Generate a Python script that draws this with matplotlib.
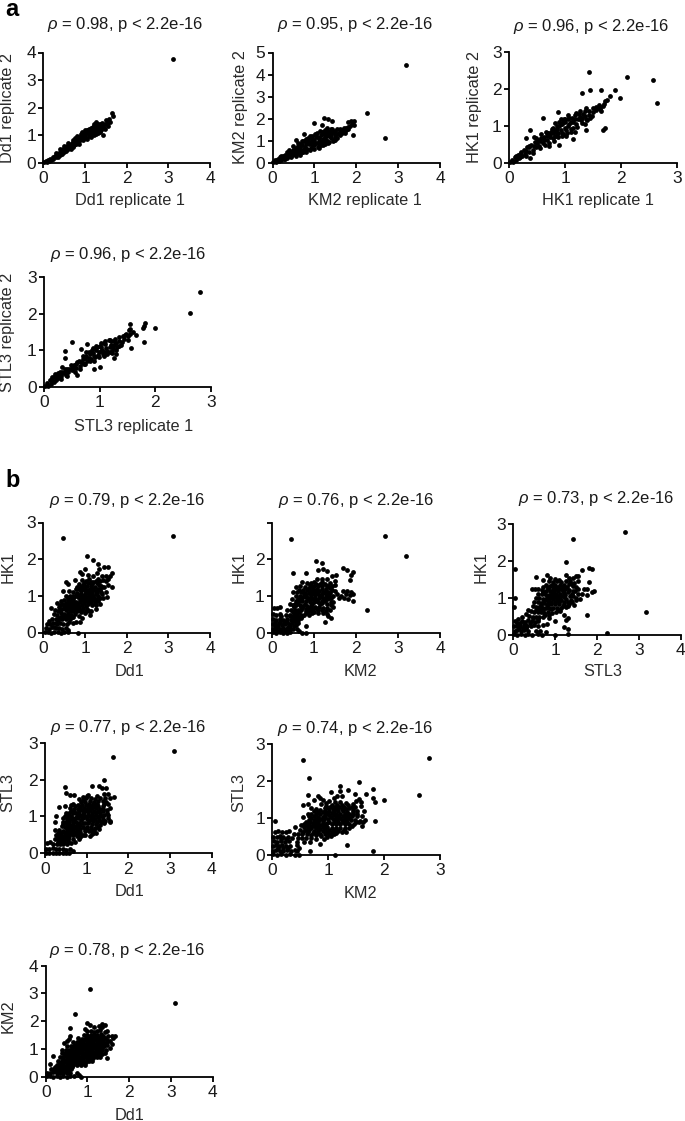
import matplotlib
matplotlib.use("Agg")
import matplotlib.pyplot as plt

W, H = 685, 1121

plt.rcParams["font.family"] = ["Liberation Sans", "DejaVu Sans"]
plt.rcParams["mathtext.fontset"] = "custom"
plt.rcParams["mathtext.it"] = "Liberation Sans:italic"
plt.rcParams["mathtext.rm"] = "Liberation Sans"

# points, one list per panel
dd1_rep = [(.02,.02),(.05,.08),(.08,.03),(.1,.12),(.13,.07),(.16,.16),(.18,.1),(.22,.2),(.24,.14),(.27,.26),
    (.29,.2),(.32,.31),(.34,.25),(.37,.38),(.39,.3),(.42,.42),(.44,.36),(.47,.5),(.49,.4),(.52,.55),
    (.54,.47),(.56,.62),(.58,.5),(.62,.66),(.63,.56),(.66,.68),(.68,.6),(.72,.76),(.74,.66),(.77,.8),
    (.78,.7),(.8,.98),(.82,.88),(.84,.76),(.86,.95),(.88,.82),(.92,.98),(.94,.88),(.98,1.1),(1.0,1.02),
    (1.02,.92),(1.05,1.18),(1.07,1.08),(1.1,.98),(1.12,1.15),(1.15,1.05),(1.18,1.25),(1.2,1.14),(1.22,1.02),(1.25,1.3),
    (1.27,1.2),(1.3,1.1),(1.27,1.48),(1.3,1.42),(1.35,1.3),(1.38,1.2),(1.42,1.38),(1.45,1.28),(1.5,1.55),(1.52,1.42),
    (1.58,1.6),(1.6,1.5),(1.65,1.82),(1.67,1.7),(1.42,1.0),(3.1,3.77),
    (.9,.9),(.96,1.0),(1.03,1.12),(1.08,1.2),(1.13,1.28),(1.17,1.12),(1.23,1.38),(1.24,1.15),(1.33,1.38),(1.33,1.2),
    (1.4,1.28),(1.47,1.4),(1.55,1.5),(1.2,1.3),(1.1,1.08),(.85,.85),(.7,.7),(.6,.6),(.5,.48),(.4,.36),
    (.3,.38),(.35,.2),(.4,.5),(.45,.32),(.5,.62),(.55,.42),(.6,.72),(.65,.52),(.7,.82),(.72,.58),
    (.8,.88),(.85,.68),(.9,1.05),(.95,.82),(1.0,1.18),(1.05,.88),(1.1,1.22),(1.15,.95),(1.2,1.3),(1.25,1.05),
    (1.3,1.32),(1.35,1.12),(1.4,1.45),(1.48,1.22),(1.55,1.35),(1.22,1.4),(1.35,1.42),(.75,.9),(.92,1.12)]

km2_rep = [(.02,.03),(.06,.14),(.09,.04),(.12,.2),(.15,.09),(.18,.26),(.21,.13),(.25,.3),(.28,.18),(.31,.38),
    (.34,.22),(.37,.46),(.4,.3),(.43,.52),(.46,.34),(.49,.6),(.52,.4),(.55,1.03),(.56,.7),(.58,.45),
    (.61,.78),(.64,.52),(.66,.88),(.69,.6),(.72,.98),(.75,1.33),(.74,.5),(.77,.72),(.8,1.08),(.83,.62),
    (.86,.85),(.89,1.2),(.92,.7),(.95,1.0),(.98,.8),(1.0,1.8),(1.02,1.3),(1.05,.9),(1.08,.72),(1.1,1.12),
    (1.14,1.45),(1.18,1.7),(1.16,.95),(1.2,.8),(1.23,2.03),(1.24,1.3),(1.28,1.05),(1.3,1.6),(1.32,2.0),(1.33,.9),
    (1.36,1.4),(1.4,1.15),(1.42,1.88),(1.43,1.55),(1.46,1.05),(1.5,1.3),(1.54,1.15),(1.55,1.55),(1.6,1.42),(1.62,1.25),
    (1.68,1.5),(1.72,1.38),(1.75,1.6),(1.8,1.52),(1.8,1.85),(1.85,1.68),(1.88,1.88),(1.93,1.25),(1.95,1.9),(1.95,1.72),
    (2.25,2.27),(2.68,1.15),(3.18,4.42),
    (.1,.12),(.2,.2),(.3,.28),(.4,.4),(.5,.5),(.55,.55),(.6,.65),(.65,.72),(.7,.8),(.75,.62),
    (.8,.85),(.85,.98),(.9,.9),(.95,.8),(1.0,1.05),(1.0,.9),(1.05,1.18),(1.1,.85),(1.1,1.0),(1.15,1.25),
    (1.2,1.1),(1.2,.95),(1.25,1.18),(1.3,1.3),(1.3,1.0),(1.35,1.2),(1.4,1.28),(1.45,1.42),(1.5,1.18),(1.55,1.3),
    (1.6,1.55),(1.65,1.38),(1.7,1.58),(1.75,1.48),(.78,.98),(.92,1.12),(1.06,1.38),(1.18,1.4),(1.26,1.5),(1.4,1.45),
    (.2,.32),(.3,.18),(.35,.5),(.4,.6),(.45,.25),(.5,.75),(.55,.3),(.6,.9),(.65,.38),(.7,.5),
    (.7,1.0),(.8,.5),(.85,1.15),(.9,.6),(.95,1.2),(1.0,.65),(1.05,1.28),(1.1,.68),(1.15,.8),(1.2,1.4),
    (1.25,.85),(1.3,1.45),(1.35,.95),(1.4,1.55),(1.45,1.0),(1.5,1.05),(1.5,1.45),(1.58,1.35),(1.65,1.5),(1.7,1.45),
    (1.8,1.65),(1.9,1.75),(.95,1.1),(1.12,1.15),(1.28,1.2)]

hk1_rep = [(.02,.02),(.05,.08),(.08,.04),(.1,.15),(.13,.08),(.16,.22),(.18,.13),(.22,.3),(.24,.19),(.27,.35),
    (.29,.25),(.3,.67),(.33,.42),(.35,.3),(.38,.88),(.38,.13),(.4,.5),(.42,.35),(.45,.7),(.47,.58),
    (.49,.42),(.52,.62),(.54,.47),(.57,.78),(.6,1.22),(.6,.55),(.63,.7),(.66,.85),(.68,.62),(.72,.45),
    (.73,.78),(.76,.92),(.78,.68),(.82,1.08),(.84,.85),(.86,.72),(.87,1.38),(.9,.5),(.9,1.0),(.92,1.2),
    (.94,.82),(.97,1.1),(1.0,.95),(1.02,.72),(1.05,1.18),(1.08,1.05),(1.12,1.22),(1.15,.65),(1.15,1.12),(1.18,.85),
    (1.2,1.35),(1.23,1.18),(1.27,1.4),(1.3,1.9),(1.3,1.22),(1.33,1.32),(1.35,1.05),(1.37,.9),(1.38,1.5),(1.38,1.18),
    (1.43,2.47),(1.43,1.3),(1.45,1.98),(1.5,1.5),(1.55,1.42),(1.6,1.58),(1.65,1.98),(1.65,1.4),(1.67,.9),(1.7,1.6),
    (1.72,.95),(1.75,1.7),(1.8,1.82),(1.9,1.98),(1.98,1.77),(2.1,2.33),(2.58,2.23),(2.65,1.63),
    (.2,.24),(.3,.32),(.36,.42),(.44,.46),(.5,.55),(.56,.6),(.62,.62),(.68,.72),(.7,.82),(.74,.7),
    (.78,.8),(.8,.9),(.82,.72),(.86,.92),(.88,.82),(.92,.9),(.94,1.05),(.96,.78),(1.0,1.1),(1.02,.88),
    (1.06,1.0),(1.1,1.12),(1.1,.92),(1.18,1.2),(1.2,1.05),(1.26,1.25),(1.28,1.15),(1.36,1.28),(1.42,1.4),(1.48,1.28),
    (1.58,1.48),(1.62,1.45),(1.68,1.55),(1.72,1.68),(1.05,1.3),(.98,1.2),
    (.12,.2),(.2,.15),(.3,.2),(.35,.45),(.42,.28),(.48,.68),(.55,.4),(.58,.68),(.65,.5),(.68,.8),
    (.72,.55),(.75,.85),(.8,.6),(.85,1.0),(.88,.7),(.92,1.05),(.95,.72),(1.0,1.2),(1.03,.8),(1.08,1.22),
    (1.1,.85),(1.15,.95),(1.18,1.3),(1.22,.98),(1.25,1.33),(1.3,1.08),(1.35,1.4),(1.4,1.15),(1.45,1.22),(1.5,1.38),
    (1.55,1.52),(1.62,1.52),(.78,.95),(.9,1.12)]

stl3_rep = [(.02,.02),(.05,.1),(.08,.04),(.1,.18),(.12,.09),(.15,.27),(.18,.14),(.2,.35),(.22,.2),(.25,.25),
    (.28,.42),(.3,.3),(.33,.55),(.35,.37),(.37,.97),(.37,.8),(.4,.32),(.42,.5),(.44,.42),(.48,.6),
    (.5,1.23),(.5,.45),(.54,.6),(.57,.52),(.6,.33),(.62,.7),(.65,.58),(.67,1.03),(.7,.75),(.72,.62),
    (.76,.85),(.78,1.18),(.78,.7),(.82,.9),(.85,.75),(.88,1.05),(.9,.5),(.9,.85),(.94,1.0),(.97,.88),
    (1.0,.55),(1.0,1.12),(1.03,.98),(1.07,.85),(1.08,1.2),(1.12,1.05),(1.16,1.28),(1.18,.95),(1.2,1.15),(1.24,1.05),
    (1.25,.8),(1.27,1.3),(1.3,.9),(1.3,1.2),(1.35,1.35),(1.38,1.15),(1.43,1.3),(1.45,1.42),(1.5,1.38),(1.52,1.55),
    (1.55,1.72),(1.57,1.05),(1.6,1.5),(1.65,1.42),(1.77,1.6),(1.8,1.65),(1.8,1.23),(1.82,1.75),(2.0,1.6),(2.62,2.03),(2.8,2.58),
    (.15,.18),(.22,.3),(.26,.33),(.32,.4),(.38,.42),(.45,.5),(.52,.52),(.58,.62),(.66,.68),(.74,.78),
    (.8,.8),(.84,.95),(.88,.92),(.92,.82),(.95,1.1),(.98,.96),(1.02,1.1),(1.05,1.02),(1.08,.95),(1.1,1.18),
    (1.14,.98),(1.18,1.1),(1.2,1.25),(1.22,.98),(1.26,1.15),(1.32,1.08),(1.34,1.25),(1.4,1.22),(1.48,1.45),(1.55,1.45),
    (.12,.2),(.18,.28),(.25,.38),(.3,.22),(.38,.5),(.42,.3),(.5,.58),(.55,.42),(.6,.68),(.65,.5),
    (.7,.65),(.74,.62),(.8,.95),(.82,.72),(.86,1.02),(.9,.72),(.94,1.12),(.98,.82),(1.02,1.2),(1.06,.9),
    (1.1,1.25),(1.14,.9),(1.18,1.28),(1.22,.92),(1.26,1.25),(1.3,1.02),(1.35,1.12),(1.42,1.4),(1.5,1.28),(1.55,1.58),
    (.7,.85),(.76,.95)]

dd1_hk1 = [(.03,.01),(.1,.02),(.18,.0),(.26,.02),(.34,.01),(.42,.0),(.5,.02),(.58,.01),(.82,.0),
    (.05,.12),(.13,.1),(.2,.14),(.29,.11),(.37,.13),(.45,.1),(.53,.12),(.6,.08),
    (.09,.24),(.16,.22),(.24,.27),(.32,.22),(.4,.25),(.48,.24),(.56,.22),(.62,.28),(.72,.25),
    (.13,.32),(.21,.38),(.29,.36),(.37,.4),(.45,.36),(.53,.38),(.64,.36),(.78,.3),(.88,.3),
    (.25,.5),(.33,.48),(.41,.52),(.49,.5),(.58,.52),(.67,.48),(.75,.5),(.85,.44),(.92,.4),
    (.18,.68),(.28,.62),(.36,.6),(.45,.64),(.54,.62),(.62,.64),(.7,.6),(.8,.58),(.9,.56),(1.0,.52),(1.12,.47),
    (.33,.8),(.4,.75),(.5,.76),(.58,.76),(.67,.74),(.76,.72),(.85,.7),(.95,.68),(1.05,.65),(1.15,.6),(1.25,.65),
    (.43,.85),(.5,.9),(.6,.88),(.69,.86),(.78,.84),(.88,.82),(.97,.8),(1.07,.78),(1.17,.76),(1.27,.74),(1.36,.78),
    (.48,1.12),(.55,1.0),(.64,1.0),(.73,.98),(.82,.96),(.92,.94),(1.02,.92),(1.12,.9),(1.22,.88),(1.32,.86),(1.43,.95),(1.53,.98),
    (.62,1.12),(.72,1.1),(.8,1.08),(.9,1.06),(1.0,1.04),(1.1,1.03),(1.2,1.0),(1.3,1.0),(1.4,1.05),(1.5,1.1),(1.65,1.25),
    (.55,1.38),(.58,1.32),(.78,1.2),(.86,1.2),(.96,1.18),(1.06,1.16),(1.16,1.14),(1.26,1.12),(1.36,1.16),(1.46,1.25),(1.55,1.3),
    (.75,1.42),(.85,1.32),(.94,1.3),(1.04,1.28),(1.14,1.27),(1.24,1.25),(1.34,1.3),(1.44,1.42),(1.56,1.45),
    (.87,1.65),(.92,1.42),(1.02,1.4),(1.1,1.45),(1.2,1.38),(1.3,1.45),(1.4,1.55),(1.5,1.55),(1.6,1.55),
    (.93,1.6),(1.0,1.72),(1.08,1.58),(1.18,1.55),(1.28,1.62),(1.33,1.72),(1.45,1.8),(1.55,1.78),(1.65,1.63),
    (1.05,2.08),(1.2,1.97),(1.3,1.88),(.48,2.57),(3.1,2.64),
    (.55,.7),(.63,.8),(.72,.9),(.8,.78),(.83,1.02),(.87,.9),(.93,.75),(.95,1.0),(1.0,.87),(1.02,.72),
    (1.05,1.1),(1.1,.96),(1.13,.83),(1.17,1.07),(1.22,.95),(1.23,.8),(1.28,1.07),(1.32,.93),(1.38,1.1),(1.12,1.2),
    (1.2,1.2),(1.3,1.2),(1.0,1.23),(1.08,1.35),(1.17,1.33),(1.28,1.35),(.7,1.0),(.65,.58),(.75,.65),(.85,.62),
    (.45,.45),(.55,.45),(.38,.7),(.45,.78),(.6,.45),(.7,.42),
    (.3,.25),(.25,.15),(.35,.33),(.42,.42),(.5,.42),(.58,.42),(.68,.42),(.4,.62),(.5,.67),(.58,.67),
    (.66,.67),(.74,.66),(.84,.64),(.93,.62),(1.02,.6),(1.1,.6),(.55,.8),(.63,.82),(.73,.78),(.83,.76),
    (.92,.88),(.98,.96),(1.07,.85),(1.17,.95),(1.27,.9),(.6,.95),(.68,.92),(.77,1.02),(.87,1.0),(1.05,.97),
    (1.25,1.05),(1.35,.95),(1.02,1.1),(.9,1.14),(1.12,1.09),(1.4,1.25),(.8,1.25),(.9,1.25),(1.0,1.17),(1.15,1.38),
    (.97,1.36),(1.25,1.4),(1.35,1.4),(1.38,1.28),(1.5,1.4)]

km2_hk1 = [(.02,.02),(.1,.0),(.18,.02),(.26,.01),(.35,.0),(.43,.02),(.65,.05),(.72,.0),(.8,.0),
    (.03,.12),(.1,.14),(.18,.1),(.26,.13),(.34,.11),(.42,.12),(.5,.1),(.6,.12),(.8,.18),
    (.02,.25),(.09,.23),(.16,.26),(.24,.22),(.32,.25),(.4,.24),(.48,.27),(.56,.23),(.62,.28),
    (.03,.38),(.1,.36),(.18,.37),(.27,.35),(.36,.38),(.45,.36),(.54,.38),(.62,.36),(.7,.4),(1.25,.3),
    (.02,.52),(.1,.5),(.2,.52),(.34,.48),(.44,.5),(.53,.49),(.6,.52),(.68,.5),(.77,.48),(.88,.5),(1.33,.45),(1.4,.42),
    (.05,.67),(.13,.68),(.2,.72),(.36,.62),(.46,.63),(.54,.62),(.62,.63),(.7,.62),(.8,.6),(.9,.62),(1.0,.58),(1.1,.55),(1.22,.55),(1.3,.52),
    (.42,.78),(.5,.76),(.58,.75),(.66,.76),(.74,.74),(.83,.74),(.92,.73),(1.02,.72),(1.12,.7),(1.22,.68),(1.32,.68),(1.45,.7),
    (.48,.92),(.56,.88),(.64,.88),(.72,.86),(.8,.86),(.9,.85),(1.0,.84),(1.1,.83),(1.2,.82),(1.3,.8),(1.4,.85),(1.6,.95),(1.72,.95),(1.82,.92),(1.92,.88),
    (.58,1.0),(.66,1.0),(.74,.98),(.82,.98),(.92,.97),(1.02,.96),(1.12,.95),(1.22,.94),(1.32,.93),(1.45,1.0),(1.55,1.05),(1.65,1.0),(1.75,1.05),(1.85,1.02),(1.93,1.05),
    (.5,1.12),(.6,1.12),(.7,1.12),(.78,1.1),(.88,1.1),(.98,1.08),(1.08,1.08),(1.18,1.06),(1.28,1.05),(1.38,1.1),(1.5,1.15),(1.68,1.15),(1.78,1.15),(1.87,1.12),
    (.58,1.25),(.66,1.28),(.78,1.25),(.88,1.22),(.98,1.2),(1.08,1.2),(1.18,1.2),(1.28,1.2),(1.38,1.22),(1.5,1.3),
    (.72,1.38),(.84,1.35),(.94,1.35),(1.04,1.32),(1.14,1.33),(1.26,1.33),(1.38,1.35),(1.5,1.42),
    (.5,1.63),(.8,1.62),(1.08,1.48),(1.18,1.48),(1.3,1.48),(1.42,1.55),(1.52,1.58),
    (1.05,1.97),(1.1,1.7),(1.2,1.9),(1.22,1.75),(1.3,1.68),(1.68,1.78),(1.78,1.72),(1.85,1.45),(1.87,1.58),(1.92,1.65),
    (.45,2.57),(2.25,.63),(2.68,2.63),(3.18,2.1),
    (.7,.7),(.78,.8),(.85,.68),(.88,.92),(.95,.8),(1.05,.9),(1.07,.65),(1.15,.78),(1.16,1.0),(1.25,.88),
    (1.25,1.12),(1.33,1.0),(.82,1.04),(.92,1.03),(1.03,1.14),(1.13,1.13),(.94,1.27),(1.0,1.4),(1.2,1.4),(1.33,1.27),
    (.7,.95),(.6,.82),(.52,.7),(.42,.45),(.5,.58),(.15,.2),(.3,.3),(.22,.45),(.38,.15),(.07,.3),
    (.08,.1),(.14,.05),(.22,.08),(.3,.06),(.38,.07),(.06,.18),(.13,.2),(.2,.3),(.28,.28),(.36,.3),
    (.44,.2),(.52,.2),(.5,.32),(.58,.3),(.48,.43),(.56,.44),(.64,.44),(.72,.45),(.8,.54),(.85,.58),
    (.95,.55),(.58,.58),(.64,.56),(.72,.68),(.8,.66),(.88,.66),(.97,.66),(1.1,.62),(1.18,.62),(1.28,.6),
    (1.38,.62),(1.4,.75),(1.45,.85),(1.35,.95),(1.4,.95),(.55,.8),(.62,.92),(.7,.92),(.76,1.05),(.85,.95),
    (.96,.92),(1.08,.88),(1.18,.88),(1.28,.98),(1.35,1.0),(.65,1.18),(.74,1.18),(.84,1.16),(.93,1.15),(1.03,1.02),
    (1.12,1.02),(1.22,1.12),(1.33,1.12),(1.42,1.18),(.9,1.3),(1.0,1.27),(1.1,1.27),(1.2,1.27),(1.32,1.27),(1.42,1.28)]

stl3_hk1 = [(.02,.02),(.1,.0),(.18,.02),(.27,.01),(.35,.02),(.45,.0),(.6,.03),(.68,.0),(.78,.08),(1.0,.0),(1.3,.03),(2.25,.05),
    (.03,.12),(.1,.14),(.18,.1),(.26,.13),(.34,.12),(.55,.1),(.64,.1),(1.3,.15),(1.22,.22),
    (.02,.25),(.09,.25),(.17,.23),(.25,.26),(.33,.24),(.42,.25),(.5,.27),(.58,.25),(.72,.28),(.8,.3),
    (.03,.38),(.12,.42),(.2,.38),(.28,.36),(.36,.4),(.44,.38),(.52,.36),(.6,.38),(1.0,.37),(1.3,.45),(1.25,.4),
    (.2,.5),(.3,.58),(.38,.52),(.46,.5),(.54,.5),(.62,.48),(.7,.5),(.85,.45),(1.2,.55),(1.77,.55),
    (.35,.68),(.43,.65),(.5,.62),(.58,.62),(.66,.62),(.74,.6),(.82,.62),(.92,.6),(1.02,.62),(1.12,.65),
    (.48,.78),(.55,.75),(.62,.75),(.7,.74),(.78,.74),(.86,.72),(.95,.72),(1.05,.73),(1.15,.72),(1.25,.75),(.02,.75),
    (.5,.9),(.58,.88),(.66,.87),(.74,.86),(.82,.85),(.9,.84),(1.0,.84),(1.1,.83),(1.2,.84),(1.32,.85),(1.45,.82),
    (.03,1.0),(.55,1.0),(.62,1.0),(.7,.98),(.78,.98),(.86,.97),(.95,.96),(1.05,.95),(1.15,.95),(1.25,.96),(1.38,.95),(1.5,.95),(1.6,.98),
    (.45,1.25),(.52,1.25),(.6,1.12),(.68,1.1),(.76,1.1),(.85,1.08),(.94,1.08),(1.04,1.06),(1.14,1.06),(1.24,1.07),(1.35,1.05),(1.55,1.1),(1.65,1.12),(1.75,1.08),(1.88,1.15),(1.93,1.2),
    (.58,1.25),(.68,1.22),(.78,1.2),(.88,1.2),(.98,1.18),(1.08,1.18),(1.18,1.18),(1.3,1.17),(1.42,1.2),(1.7,1.25),(1.75,1.25),
    (.55,1.57),(.72,1.48),(.78,1.36),(.88,1.32),(.98,1.3),(1.08,1.3),(1.18,1.3),(1.28,1.3),(1.42,1.32),(1.5,1.3),
    (.8,1.62),(.86,1.45),(.95,1.42),(1.05,1.45),(1.15,1.42),(1.25,1.45),(1.35,1.45),(1.45,1.4),(1.55,1.45),(1.82,1.44),
    (.88,1.55),(1.0,1.52),(1.1,1.5),(1.25,1.62),(1.32,1.55),(1.42,1.55),(1.5,1.6),(1.55,1.6),
    (.03,1.78),(1.27,1.98),(1.43,2.6),(1.65,1.77),(1.82,1.8),(1.87,1.78),(2.68,2.78),(3.18,.63),
    (.6,.68),(.72,.68),(.66,.8),(.8,.8),(.74,.92),(.9,.9),(.82,.92),(1.0,.9),(.9,1.02),(1.1,.9),
    (1.0,1.02),(1.2,.9),(1.1,1.0),(1.3,.9),(1.2,1.02),(.8,1.05),(.72,1.16),(.92,1.14),(1.02,1.12),(1.12,1.12),
    (1.22,1.13),(.84,1.26),(.94,1.25),(1.04,1.24),(1.14,1.24),(1.24,1.24),(1.0,1.36),(1.12,1.36),(1.2,1.36),(1.32,1.22),
    (.14,.2),(.22,.18),(.3,.18),(.08,.32),(.16,.32),(.28,.3),(.4,.32),(.48,.45),(.58,.42),
    (.55,.68),(.64,.7),(.75,.55),(.85,.55),(.9,.7),(1.08,.68),(1.18,.78),(1.3,.78),(1.4,.9),(1.42,1.05),
    (1.48,1.18),(1.55,1.25),(1.5,1.0),(1.4,1.12),(1.32,1.38),(1.4,1.38),(.7,1.3),(.82,1.28),(.92,1.36)]

dd1_stl3 = [(.02,.01),(.1,.02),(.18,.0),(.26,.02),(.34,.01),(.42,.0),(.5,.02),(.58,.01),(.68,.05),
    (.03,.13),(.1,.12),(.18,.14),(.26,.11),(.34,.13),(.42,.12),(.5,.1),(.6,.12),
    (.05,.27),(.12,.3),(.2,.25),(.28,.24),(.36,.26),(.44,.25),(.52,.24),(.62,.28),(.72,.3),
    (.24,.38),(.32,.38),(.4,.37),(.48,.38),(.56,.36),(.66,.38),(.82,.38),(.85,.45),
    (.26,.5),(.34,.5),(.42,.48),(.5,.5),(.58,.48),(.68,.5),(.76,.48),(.9,.5),(1.08,.48),(1.12,.52),
    (.25,.62),(.34,.62),(.43,.6),(.52,.6),(.6,.62),(.68,.6),(.76,.6),(.85,.58),(1.05,.6),(1.15,.55),(1.22,.55),
    (.25,.85),(.4,.75),(.48,.72),(.56,.74),(.64,.72),(.72,.72),(.8,.72),(.9,.72),(1.0,.72),(1.1,.7),(1.2,.68),(1.3,.65),
    (.26,1.0),(.42,.85),(.5,.85),(.58,.85),(.66,.84),(.74,.84),(.82,.83),(.92,.83),(1.02,.82),(1.12,.8),(1.22,.8),(1.32,.78),(1.42,.82),(1.55,.85),
    (.48,1.0),(.56,.98),(.64,.96),(.72,.96),(.8,.95),(.9,.95),(1.0,.94),(1.1,.93),(1.2,.92),(1.3,.9),(1.4,.93),(1.5,.95),(1.57,.88),
    (.33,1.25),(.5,1.1),(.58,1.1),(.66,1.08),(.74,1.08),(.82,1.07),(.92,1.06),(1.02,1.05),(1.12,1.04),(1.22,1.03),(1.32,1.02),(1.42,1.05),(1.52,1.05),
    (.48,1.28),(.6,1.22),(.7,1.2),(.78,1.2),(.88,1.18),(.98,1.18),(1.08,1.17),(1.18,1.15),(1.28,1.15),(1.38,1.14),(1.48,1.18),(1.56,1.22),
    (.68,1.35),(.78,1.32),(.88,1.3),(.98,1.3),(1.08,1.28),(1.18,1.27),(1.28,1.28),(1.38,1.28),(1.5,1.33),
    (.48,1.8),(.5,1.63),(.6,1.57),(.7,1.58),(.82,1.48),(.92,1.45),(1.0,1.55),(1.08,1.42),(1.18,1.4),(1.28,1.42),(1.38,1.42),(1.45,1.5),(1.55,1.5),(1.65,1.52),
    (.98,1.5),(1.03,1.58),(1.12,1.82),(1.25,1.55),(1.3,1.82),(1.37,1.78),(1.42,1.6),(1.47,1.78),(1.5,1.6),(1.42,2.0),(1.62,2.6),(3.1,2.78),
    (.95,.6),(.95,.82),(.86,.9),(.86,1.02),(.96,1.0),(1.06,1.0),(1.16,.98),(1.26,.98),(1.36,1.0),(1.05,.88),
    (1.15,.87),(1.25,.85),(1.35,.85),(.76,1.02),(.7,.9),(.62,1.02),(.93,1.12),(1.03,1.12),(1.13,1.1),(1.23,1.1),
    (1.33,1.08),(.83,1.25),(.93,1.24),(1.03,1.23),(1.13,1.22),(1.23,1.22),(1.33,1.2),(1.05,1.35),(1.15,1.34),(1.25,1.35),
    (.3,.3),(.38,.3),(.46,.3),(.54,.3),(.35,.42),(.45,.43),(.55,.42),(.63,.55),(.72,.55),(.95,.66),
    (.3,.45),(.38,.45),(.46,.43),(.54,.42),(.3,.56),(.38,.55),(.47,.55),(.55,.55),(.64,.55),(.72,.55),
    (.8,.52),(.87,.5),(.95,.5),(.52,.66),(.6,.68),(.68,.66),(.76,.66),(.85,.65),(1.0,.65),(1.1,.62),
    (1.18,.62),(1.28,.7),(.44,.8),(.52,.8),(.6,.78),(.68,.78),(.76,.78),(.85,.78),(1.38,.87),(1.45,.88),
    (1.48,1.1),(.44,.95),(.52,.92),(.6,.92),(.68,.9),(.55,1.05),(.62,1.15),(.7,1.12),(.82,1.15),(.62,1.3),
    (.72,1.28),(.86,1.38),(.96,1.38),(1.42,1.35),(.9,1.52),(1.1,1.5),(1.2,1.48),(1.32,1.5),(1.4,1.2),(1.46,1.38)]

km2_stl3 = [(.02,.02),(.08,.0),(.16,.02),(.24,.0),(.32,.02),(.4,.01),(.48,.0),(1.13,.0),
    (.02,.12),(.07,.14),(.13,.1),(.2,.12),(.27,.14),(.34,.1),(.4,.13),(.45,.1),(.67,.1),(1.8,.1),
    (.02,.25),(.06,.27),(.12,.25),(.18,.26),(.25,.24),(.32,.25),(.44,.26),(.47,.2),
    (.03,.38),(.09,.36),(.15,.38),(.22,.35),(.3,.38),(.44,.36),(.56,.35),(.68,.35),(.85,.3),(1.33,.28),
    (.02,.5),(.08,.5),(.14,.52),(.2,.5),(.28,.5),(.36,.47),(.46,.46),(.54,.46),(.6,.45),(.7,.45),(.78,.42),(.92,.42),
    (.05,.62),(.1,.65),(.17,.62),(.24,.63),(.3,.65),(.38,.58),(.46,.58),(.54,.58),(.62,.56),(.7,.55),(.78,.55),(.88,.52),(.98,.5),(1.05,.52),
    (.05,.93),(.4,.75),(.5,.68),(.58,.68),(.66,.67),(.74,.66),(.82,.65),(.9,.64),(.98,.62),(1.06,.62),(1.14,.6),(1.25,.62),(1.32,.62),
    (.52,.8),(.6,.8),(.67,.78),(.74,.78),(.82,.77),(.9,.76),(.98,.75),(1.06,.74),(1.14,.72),(1.22,.72),(1.3,.72),(1.38,.72),(1.6,.78),
    (.6,.9),(.68,.9),(.75,.9),(.82,.88),(.9,.87),(.98,.86),(1.06,.85),(1.14,.84),(1.22,.83),(1.3,.83),(1.38,.83),(1.46,.85),(1.55,.88),(1.62,.9),(1.83,.93),
    (.55,1.03),(.63,1.12),(.7,1.0),(.78,.98),(.85,.98),(.92,.98),(1.0,.97),(1.08,.96),(1.16,.95),(1.24,.95),(1.32,.94),(1.4,.95),(1.48,.95),(1.56,.92),(1.65,.95),
    (.7,1.12),(.78,1.1),(.86,1.1),(.94,1.08),(1.02,1.08),(1.1,1.07),(1.18,1.06),(1.26,1.05),(1.34,1.06),(1.42,1.05),(1.52,1.05),(1.6,1.05),
    (.55,1.35),(.63,1.38),(.7,1.28),(.78,1.25),(.86,1.22),(.94,1.2),(1.02,1.2),(1.1,1.2),(1.18,1.18),(1.26,1.18),(1.34,1.17),(1.44,1.16),(1.52,1.2),(1.64,1.2),
    (.75,1.48),(.82,1.6),(.88,1.38),(.96,1.32),(1.04,1.3),(1.12,1.3),(1.2,1.3),(1.28,1.3),(1.38,1.28),(1.48,1.3),(1.58,1.32),
    (.85,1.55),(.9,1.5),(1.02,1.45),(1.12,1.42),(1.22,1.42),(1.32,1.4),(1.5,1.45),(1.55,1.52),(1.58,1.42),
    (.63,1.62),(1.05,1.7),(1.1,1.55),(1.15,1.6),(1.22,1.87),(1.22,1.72),(1.25,1.6),(1.35,1.75),(1.48,1.65),(1.67,1.65),
    (.55,2.57),(.65,2.08),(1.55,1.97),(1.8,1.78),(1.8,1.55),(1.83,1.43),(2.0,1.48),(2.62,1.62),(2.8,2.63),
    (1.02,.9),(1.1,.9),(1.18,.88),(1.26,.88),(1.34,.88),(.95,1.03),(1.05,1.02),(1.14,1.0),(1.22,1.0),(1.3,1.0),
    (1.38,1.0),(.98,1.14),(1.06,1.14),(1.14,1.12),(1.22,1.12),(1.3,1.12),(1.38,1.12),(1.0,1.26),(1.08,1.25),(1.16,1.24),
    (1.24,1.24),(1.32,1.24),(.9,.8),(.82,.82),(.1,.2),(.2,.2),(.28,.2),(.15,.44),(.24,.42),
    (.55,.62),(.64,.62),(.72,.6),(.8,.6),(.86,.58),(.94,.57),(1.02,.57),(1.1,.57),(.56,.75),(.63,.73),
    (.7,.72),(.78,.72),(.86,.71),(.94,.7),(1.02,.68),(1.1,.67),(1.18,.66),(1.28,.67),(.56,.85),(.64,.85),
    (.72,.84),(.78,.84),(.86,.82),(.94,.81),(1.42,.78),(1.5,.9),(.66,.95),(.74,.95),(.82,.93),(.9,.92),
    (.66,1.05),(.74,1.05),(.82,1.04),(.9,1.03),(.74,1.18),(.82,1.17),(.9,1.16),(1.44,1.1),(1.52,1.12),(1.45,1.22),
    (.94,1.26),(1.42,1.3),(.96,1.4),(1.06,1.36),(1.16,1.36),(1.25,1.36),(1.35,1.35),(1.45,1.38)]

dd1_km2 = [(.02,.02),(.1,.01),(.18,.0),(.26,.02),(.34,.0),(.42,.02),(.5,.0),(.58,.02),(.68,.02),(.85,.0),(.8,.05),
    (.03,.15),(.1,.14),(.18,.16),(.26,.13),(.34,.15),(.42,.14),(.5,.14),(.58,.12),(.74,.12),
    (.1,.45),(.13,.28),(.2,.28),(.28,.28),(.36,.29),(.44,.28),(.52,.26),(.6,.28),
    (.18,.73),(.26,.42),(.34,.42),(.42,.43),(.5,.41),(.58,.42),(.66,.42),(.74,.42),(.84,.43),(.94,.43),
    (.3,.56),(.38,.57),(.46,.56),(.54,.55),(.62,.56),(.7,.55),(.78,.55),(.87,.54),(.96,.54),(1.04,.56),(1.12,.58),
    (.35,.7),(.42,.7),(.5,.7),(.58,.7),(.66,.69),(.74,.69),(.82,.68),(.9,.68),(.98,.67),(1.06,.67),(1.14,.67),(1.22,.7),(1.3,.72),(1.48,.68),
    (.38,.84),(.46,.84),(.54,.83),(.62,.83),(.7,.82),(.78,.82),(.86,.81),(.94,.81),(1.02,.8),(1.1,.8),(1.18,.8),(1.26,.8),(1.34,.82),(1.42,.85),
    (.4,.98),(.48,.98),(.56,.97),(.64,.96),(.72,.96),(.8,.95),(.88,.95),(.96,.94),(1.04,.94),(1.12,.94),(1.2,.94),(1.28,.94),(1.36,.95),(1.44,.98),(1.54,1.02),
    (.44,1.2),(.52,1.12),(.6,1.1),(.68,1.1),(.76,1.09),(.84,1.08),(.92,1.08),(1.0,1.08),(1.08,1.08),(1.16,1.08),(1.24,1.07),(1.32,1.08),(1.4,1.1),(1.48,1.13),(1.58,1.18),
    (.5,1.3),(.58,1.45),(.66,1.24),(.74,1.24),(.82,1.22),(.9,1.22),(.98,1.22),(1.06,1.22),(1.14,1.22),(1.22,1.22),(1.3,1.22),(1.38,1.22),(1.46,1.26),(1.55,1.3),(1.62,1.38),
    (.55,1.35),(.78,1.38),(.86,1.36),(.94,1.36),(1.02,1.36),(1.1,1.35),(1.18,1.35),(1.26,1.35),(1.34,1.36),(1.42,1.4),(1.5,1.45),(1.58,1.48),(1.66,1.46),
    (.92,1.5),(1.0,1.5),(1.08,1.5),(1.16,1.5),(1.24,1.5),(1.32,1.55),(1.42,1.62),(1.48,1.65),
    (.95,1.72),(1.0,1.63),(1.08,1.65),(1.16,1.62),(1.22,1.65),(1.3,1.7),(1.36,1.78),(1.42,1.88),(1.35,1.9),(1.28,1.82),
    (.98,1.92),(1.06,1.88),(1.16,1.78),(.58,1.75),(.7,2.25),(1.05,3.17),(3.1,2.67),
    (.22,.22),(.3,.22),(.38,.22),(.46,.21),(.54,.2),(.22,.35),(.3,.35),(.38,.36),(.46,.35),(.54,.34),
    (.62,.35),(.34,.5),(.42,.5),(.5,.49),(.58,.49),(.66,.49),(.74,.49),(.82,.49),(.9,.48),(.42,.63),
    (.5,.63),(.58,.63),(.66,.62),(.74,.62),(.82,.62),(.9,.61),(.98,.6),(1.06,.61),(.46,.77),(.54,.76),
    (.62,.76),(.7,.75),(.78,.75),(.86,.74),(.94,.74),(1.02,.73),(1.1,.73),(1.18,.73),(1.26,.74),(.5,.9),
    (.58,.9),(.66,.89),(.74,.88),(.82,.88),(.9,.87),(.98,.87),(1.06,.87),(1.14,.87),(1.22,.87),(1.3,.88),
    (.64,1.03),(.72,1.02),(.8,1.02),(.88,1.01),(.96,1.01),(1.04,1.01),(1.12,1.01),(1.2,1.01),(1.28,1.01),(1.36,1.02),
    (.7,1.16),(.78,1.15),(.86,1.15),(.94,1.15),(1.02,1.15),(1.1,1.15),(1.18,1.15),(1.26,1.15),(1.34,1.15),(1.42,1.17),
    (.82,1.29),(.9,1.29),(.98,1.29),(1.06,1.29),(1.14,1.29),(1.22,1.29),(1.3,1.29),(1.38,1.3),(1.46,1.34),(.98,1.43),
    (1.06,1.43),(1.14,1.43),(1.22,1.43),(1.3,1.43),(1.38,1.45)]

titles = ["0.98", "0.95", "0.96", "0.96", "0.79", "0.76", "0.73", "0.77", "0.74", "0.78"]
x_labels = ["Dd1 replicate 1", "KM2 replicate 1", "HK1 replicate 1", "STL3 replicate 1",
            "Dd1", "KM2", "STL3", "Dd1", "KM2", "Dd1"]
y_labels = ["Dd1 replicate 2", "KM2 replicate 2", "HK1 replicate 2", "STL3 replicate 2",
            "HK1", "HK1", "HK1", "STL3", "STL3", "KM2"]
panel_points = [dd1_rep, km2_rep, hk1_rep, stl3_rep, dd1_hk1, km2_hk1, stl3_hk1, dd1_stl3, km2_stl3, dd1_km2]
x_max = [4, 4, 3, 3, 4, 4, 4, 4, 3, 4]
y_max = [4, 5, 3, 3, 3, 3, 3, 3, 3, 4]

# pixel layout: left, right, bottom, top of the axes, then title, xlabel, ylabel anchors
boxes = [(43.5, 210, 163, 52.5), (272.5, 440, 163, 52.5), (509, 677, 163, 52), (44, 211, 387, 277),
         (43.5, 210, 632.5, 522.5), (272, 440, 633, 522.7), (513.3, 680.7, 635, 524),
         (45, 211.7, 853.3, 742.7), (272.3, 440, 855, 744), (45.7, 212.7, 1076.7, 965.7)]
title_pos = [(125, 25), (355, 25), (590.7, 26), (128, 254), (127, 500.7), (356, 501), (596, 499),
             (128, 727.7), (355, 728), (127, 951)]
xlabel_pos = [(129.5, 201), (365, 201), (598, 201), (134, 427), (129, 671), (360, 671), (603, 671),
              (129, 892), (360, 893), (129, 1115)]
ylabel_pos = [(8, 108), (240, 107), (474, 107), (8, 332), (8, 567), (239, 567), (481, 567),
              (8, 793), (239, 793), (8, 1016)]

TITLE_FS = 12
LABEL_FS = 11.7
TICK_FS = 12.5
INK = "#1a1a1a"

fig = plt.figure(figsize=(W / 100, H / 100), dpi=100)

for i in range(10):
    left, right, bottom, top = boxes[i]
    ax = fig.add_axes([left / W, 1 - bottom / H, (right - left) / W, (bottom - top) / H])
    xs = [p[0] for p in panel_points[i]]
    ys = [p[1] for p in panel_points[i]]
    ax.scatter(xs, ys, s=12, c="black", linewidths=0, clip_on=False, zorder=3)
    ax.set_xlim(0, x_max[i])
    ax.set_ylim(0, y_max[i])
    ax.set_xticks(range(x_max[i] + 1))
    ax.set_yticks(range(y_max[i] + 1))
    if i == 5:
        # this panel has no number on its top tick
        ax.set_yticklabels(["0", "1", "2", ""])
    ax.spines["top"].set_visible(False)
    ax.spines["right"].set_visible(False)
    ax.spines["left"].set_linewidth(1.3)
    ax.spines["bottom"].set_linewidth(1.3)
    ax.tick_params(length=3.8, width=1.3, labelsize=TICK_FS, labelcolor=INK)
    ax.tick_params(axis="x", pad=2.2)
    ax.tick_params(axis="y", pad=1.5)
    ax.patch.set_alpha(0)

    tx, ty = title_pos[i]
    fig.text(tx / W, 1 - ty / H, r"$\rho$ = " + titles[i] + ", p < 2.2e-16", fontsize=TITLE_FS,
             ha="center", va="center", color=INK)
    lx, ly = xlabel_pos[i]
    fig.text(lx / W, 1 - ly / H, x_labels[i], fontsize=LABEL_FS, ha="center", va="center", color="#2a2a2a")
    lx, ly = ylabel_pos[i]
    fig.text(lx / W, 1 - ly / H, y_labels[i], fontsize=LABEL_FS, ha="center", va="center",
             rotation=90, color="#2a2a2a")

fig.text(5 / W, 1 - 16 / H, "a", fontsize=17, fontweight="bold", color="black", ha="left", va="baseline")
fig.text(5 / W, 1 - 487 / H, "b", fontsize=17, fontweight="bold", color="black", ha="left", va="baseline")

fig.savefig("out.png", dpi=100)
